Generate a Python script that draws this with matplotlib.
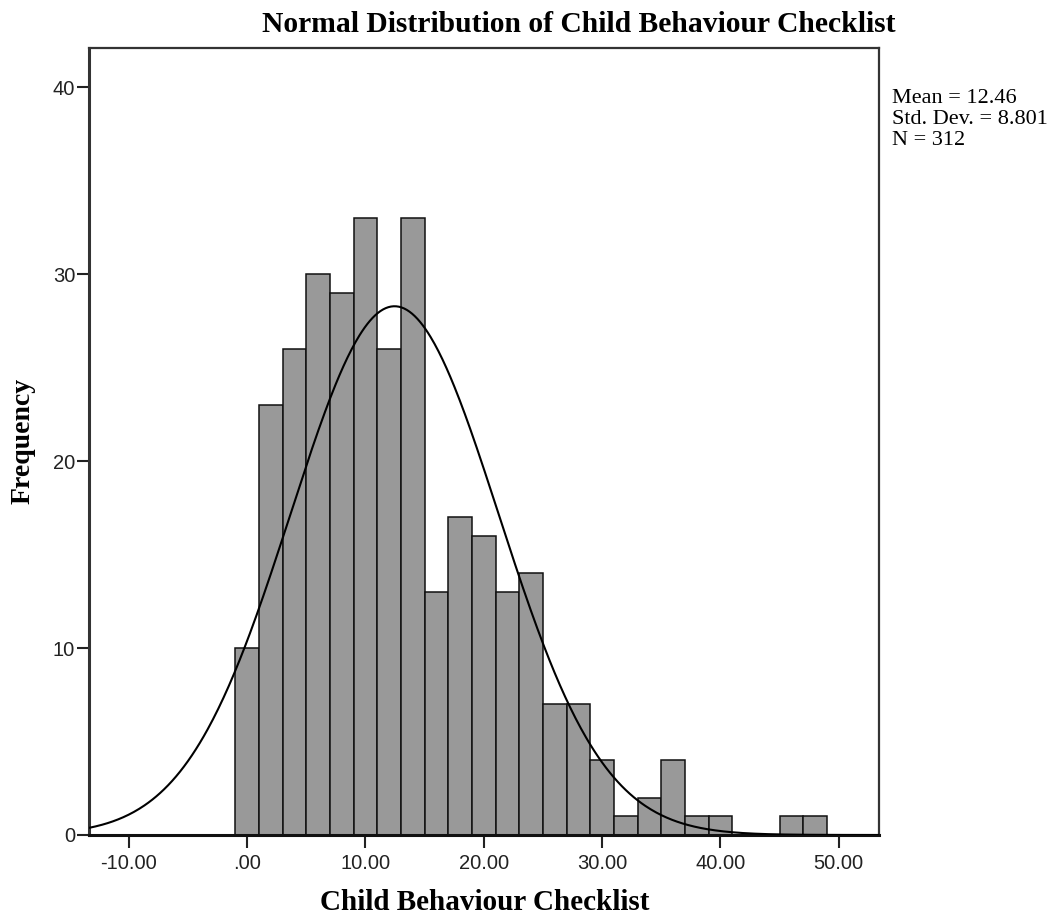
import numpy as np
import matplotlib
matplotlib.use("Agg")
import matplotlib.pyplot as plt

# Data
bin_centers = [0, 2, 4, 6, 8, 10, 12, 14, 16, 18, 20, 22, 24, 26, 28, 30, 32, 34, 36, 38, 40, 42, 44, 46, 48]
counts = [10, 23, 26, 30, 29, 33, 26, 33, 13, 17, 16, 13, 14, 7, 7, 4, 1, 2, 4, 1, 1, 0, 0, 1, 1]
bin_width = 2
mean, sd, n = 12.46, 8.801, 312
xticks = [-10, 0, 10, 20, 30, 40, 50]
xtick_labels = ["-10.00", ".00", "10.00", "20.00", "30.00", "40.00", "50.00"]
yticks = [0, 10, 20, 30, 40]

W, H = 1051, 917
fig = plt.figure(figsize=(W / 100, H / 100), dpi=100)
ax = fig.add_axes([89 / W, 1 - 835 / H, (879 - 89) / W, (835 - 48) / H])

ax.bar(bin_centers, counts, width=bin_width, color="#999999", edgecolor="#111111", linewidth=1.1, zorder=2)

xmin, xmax = -13.36, 53.4
xs = np.linspace(xmin, xmax, 600)
ys = n * bin_width / (sd * np.sqrt(2 * np.pi)) * np.exp(-0.5 * ((xs - mean) / sd) ** 2)
ax.plot(xs, ys, color="black", linewidth=1.5, zorder=3)

ax.set_xlim(xmin, xmax)
ax.set_ylim(0, 42.1)
ax.set_xticks(xticks)
ax.set_xticklabels(xtick_labels)
ax.set_yticks(yticks)
ax.tick_params(axis="x", direction="out", length=9.5, width=1.5, pad=4, labelsize=14.5, colors="#222222")
ax.tick_params(axis="y", direction="out", length=9, width=1.5, pad=1, labelsize=14.5, colors="#222222")
for lab in ax.get_xticklabels() + ax.get_yticklabels():
    lab.set_fontfamily("Liberation Sans")
for s in ax.spines.values():
    s.set_linewidth(1.6)
    s.set_color("#333333")
ax.spines["bottom"].set_linewidth(2.2)
ax.spines["bottom"].set_color("#111111")
ax.spines["left"].set_linewidth(2.2)

fig.text(579 / W, 1 - 25 / H, "Normal Distribution of Child Behaviour Checklist",
         ha="center", va="center", fontsize=21.3, fontweight="bold", family="Liberation Serif")
fig.text(485 / W, 1 - 903 / H, "Child Behaviour Checklist",
         ha="center", va="center", fontsize=21, fontweight="bold", family="Liberation Serif")
fig.text(23 / W, 1 - 441 / H, "Frequency", rotation=90,
         ha="center", va="center", fontsize=20, fontweight="bold", family="Liberation Serif")
fig.text(892 / W, 1 - 89 / H, "Mean = 12.46\nStd. Dev. = 8.801\nN = 312",
         ha="left", va="top", fontsize=16, family="Liberation Serif", linespacing=1.13)

fig.savefig("out.png", dpi=100)
